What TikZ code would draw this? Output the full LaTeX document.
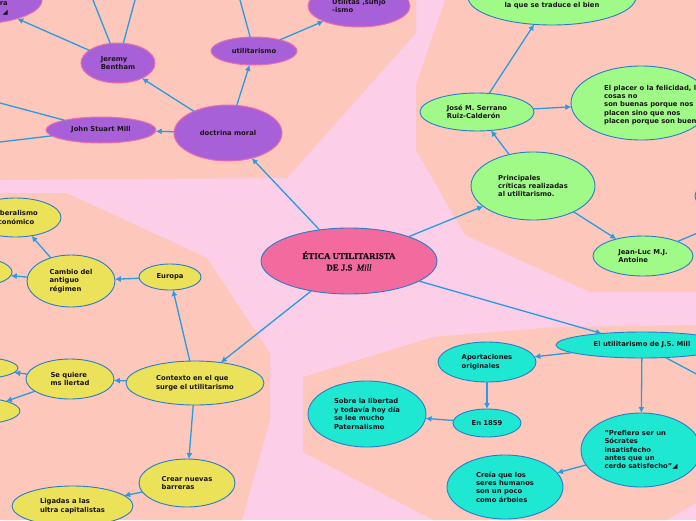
\documentclass[tikz,border=0pt]{standalone}
\usepackage{fontspec}
\setmainfont{DejaVu Sans}
\newfontfamily\titlefont[FakeBold=1.2]{Liberation Serif}
\usetikzlibrary{shapes.geometric,arrows.meta}
\definecolor{bgpink}{RGB}{252,206,232}
\definecolor{salmon}{RGB}{253,200,187}
\definecolor{cPurple}{RGB}{168,96,216}
\definecolor{cPurpleB}{RGB}{236,110,170}
\definecolor{cGreen}{RGB}{160,250,135}
\definecolor{cYellow}{RGB}{236,226,90}
\definecolor{cCyan}{RGB}{30,232,210}
\definecolor{cCenter}{RGB}{243,107,158}
\definecolor{cBorder}{RGB}{40,125,200}
\definecolor{cLine}{RGB}{40,155,225}
\definecolor{cText}{RGB}{25,20,25}
\newcommand{\nfont}{\fontsize{6.8}{8.4}\selectfont\bfseries}
\tikzset{
  sz/.style 2 args={minimum width=#1pt, minimum height=#2pt},
  mmnode/.style={ellipse, inner sep=0pt, outer sep=0pt, text=cText, font=\nfont, align=left},
  pnode/.style={mmnode, fill=cPurple, draw=cPurpleB, line width=1pt},
  gnode/.style={mmnode, fill=cGreen, draw=cBorder, line width=0.9pt},
  ynode/.style={mmnode, fill=cYellow, draw=cBorder, line width=0.9pt},
  cnode/.style={mmnode, fill=cCyan, draw=cBorder, line width=0.9pt},
  rootnode/.style={mmnode, fill=cCenter, draw=cBorder, line width=0.9pt, align=center},
  txt/.style={inner sep=0pt, text=cText, font=\nfont},
  conn/.style={draw=cLine, line width=1.3pt, -{Latex[length=6pt,width=6pt]}},
  link/.style={draw=cLine, line width=1.3pt},
}
\begin{document}
\begin{tikzpicture}[x=1pt,y=-1pt]
\useasboundingbox (0,0) rectangle (696,520);
\clip (0,0) rectangle (696,520);
% background
\fill[bgpink] (0,0) rectangle (696,520);
\fill[salmon] (0,0) -- (416,0) -- (416,33) -- (287,178) -- (0,180) -- cycle;
\fill[salmon] (445,0) -- (696,0) -- (696,292) -- (590,292) -- (465,235) -- (416,150) -- (416,85) -- cycle;
\fill[salmon] (0,193) -- (67,193) -- (207,258) -- (270,353) -- (270,420) -- (242,520) -- (0,520) -- cycle;
\fill[salmon] (303,377) -- (433,337) -- (557,327) -- (696,325) -- (696,503) -- (667,520) -- (433,520) -- (303,452) -- cycle;

% root
\node[rootnode, sz={176}{66}, font=\titlefont\fontsize{8.8}{11.5}\selectfont\bfseries] (ctr) at (349,261)
  {ÉTICA UTILITARISTA\\DE J.S\ \ {\itshape\mdseries Mill}};

% purple branch
\node[pnode, sz={134}{48}] (tl) at (-25,0) {};
\node[txt, align=right, anchor=east] (tlt) at (8,7.5) {Filósofo de la era\\moderna. ◢};
\node[pnode, sz={74}{40}] (jb) at (118,63) {Jeremy\\Bentham};
\node[pnode, sz={110}{26}] (jsm) at (101,130) {John Stuart Mill};
\node[pnode, sz={108}{56}] (dm) at (228,133) {doctrina moral};
\node[pnode, sz={86}{28}] (ut) at (254,51) {utilitarismo};
\node[pnode, sz={102}{42}] (uti) at (359,6) {Utilitas ,sufijo\\-ismo};
\coordinate (jbA) at (80.5,-31.5);
\coordinate (jbB) at (143.5,-31.5);
\coordinate (jsmA) at (-101,76);
\coordinate (jsmB) at (-101,154);
\coordinate (utA) at (226,-51);

% green branch
\node[gnode, sz={168}{56}] (tg) at (552,-3) {El principio de utilidad\\es la felicidad en\\la que se traduce el bien};
\node[gnode, sz={114}{38}] (jose) at (477,112) {José M. Serrano\\Ruiz-Calderón};
\node[gnode, sz={140}{74}] (placer) at (641,103) {};
\node[txt, align=left, anchor=west] (placert) at (604,105)
  {El placer o la felicidad, las\\cosas no\\son buenas porque nos\\placen sino que nos\\placen porque son buenas};
\node[gnode, sz={124}{68}] (princ) at (533,186) {Principales\\críticas realizadas\\al utilitarismo.};
\node[gnode, sz={100}{40}] (jl) at (643,256) {Jean-Luc M.J.\\Antoine};
\node[gnode, sz={100}{40}] (rg) at (745,196) {};
\coordinate (jlA) at (750,211);

% cyan branch
\node[cnode, sz={172}{26}] (jsmill) at (642,345) {El utilitarismo de J.S. Mill};
\node[cnode, sz={98}{40}] (aport) at (487,362) {Aportaciones\\originales};
\node[cnode, sz={68}{28}] (en) at (487,423) {En 1859};
\node[cnode, sz={118}{66}] (sobre) at (367,414) {Sobre la libertad\\y todavía hoy día\\se lee mucho\\Paternalismo};
\node[cnode, sz={120}{74}] (pref) at (641,450) {"Prefiero ser un\\Sócrates\\insatisfecho\\antes que un\\cerdo satisfecho"◢};
\node[cnode, sz={116}{64}] (creia) at (505,487) {Creía que los\\seres humanos\\son un poco\\como árboles};
\coordinate (jsmillA) at (747,401);

% yellow branch
\node[ynode, sz={138}{44}] (ctx) at (195,383) {Contexto en el que\\surge el utilitarismo};
\node[ynode, sz={62}{26}] (eur) at (170,277) {Europa};
\node[ynode, sz={88}{52}] (camb) at (71,281) {Cambio del\\antiguo\\régimen};
\node[ynode, sz={91}{39}] (lib) at (15.5,217.5) {Liberalismo\\económico};
\node[ynode, sz={84}{30}] (yl1) at (-30,272) {};
\node[ynode, sz={88}{40}] (sq) at (70,379) {Se quiere\\ms llertad};
\node[ynode, sz={86}{22}] (yl2) at (-25,368) {};
\node[ynode, sz={84}{26}] (yl3) at (-22,411) {};
\node[ynode, sz={96}{48}] (crear) at (187,483) {Crear nuevas\\barreras};
\node[ynode, sz={121}{40}] (lig) at (72.5,506) {Ligadas a las\\ultra capitalistas};

% connectors
\draw[conn] (ctr) -- (dm);
\draw[conn] (dm) -- (jb);
\draw[conn] (dm) -- (jsm);
\draw[conn] (dm) -- (ut);
\draw[conn] (ut) -- (uti);
\draw[conn] (jb) -- (tl);
\draw[link] (jb) -- (jbA);
\draw[link] (jb) -- (jbB);
\draw[link] (jsm) -- (jsmA);
\draw[link] (jsm) -- (jsmB);
\draw[link] (ut) -- (utA);

\draw[conn] (ctr) -- (princ);
\draw[conn] (princ) -- (jose);
\draw[conn] (jose) -- (tg);
\draw[conn] (jose) -- (placer);
\draw[conn] (princ) -- (jl);
\draw[link] (jl) -- (jlA);

\draw[conn] (ctr) -- (jsmill);
\draw[conn] (jsmill) -- (aport);
\draw[conn] (jsmill) -- (pref);
\draw[conn] (aport) -- (en);
\draw[conn] (en) -- (sobre);
\draw[conn] (pref) -- (creia);
\draw[link] (jsmill) -- (jsmillA);

\draw[conn] (ctr) -- (ctx);
\draw[conn] (ctx) -- (eur);
\draw[conn] (eur) -- (camb);
\draw[conn] (camb) -- (lib);
\draw[conn] (camb) -- (yl1);
\draw[conn] (ctx) -- (sq);
\draw[conn] (sq) -- (yl2);
\draw[conn] (sq) -- (yl3);
\draw[conn] (ctx) -- (crear);
\draw[conn] (crear) -- (lig);
\end{tikzpicture}
\end{document}
